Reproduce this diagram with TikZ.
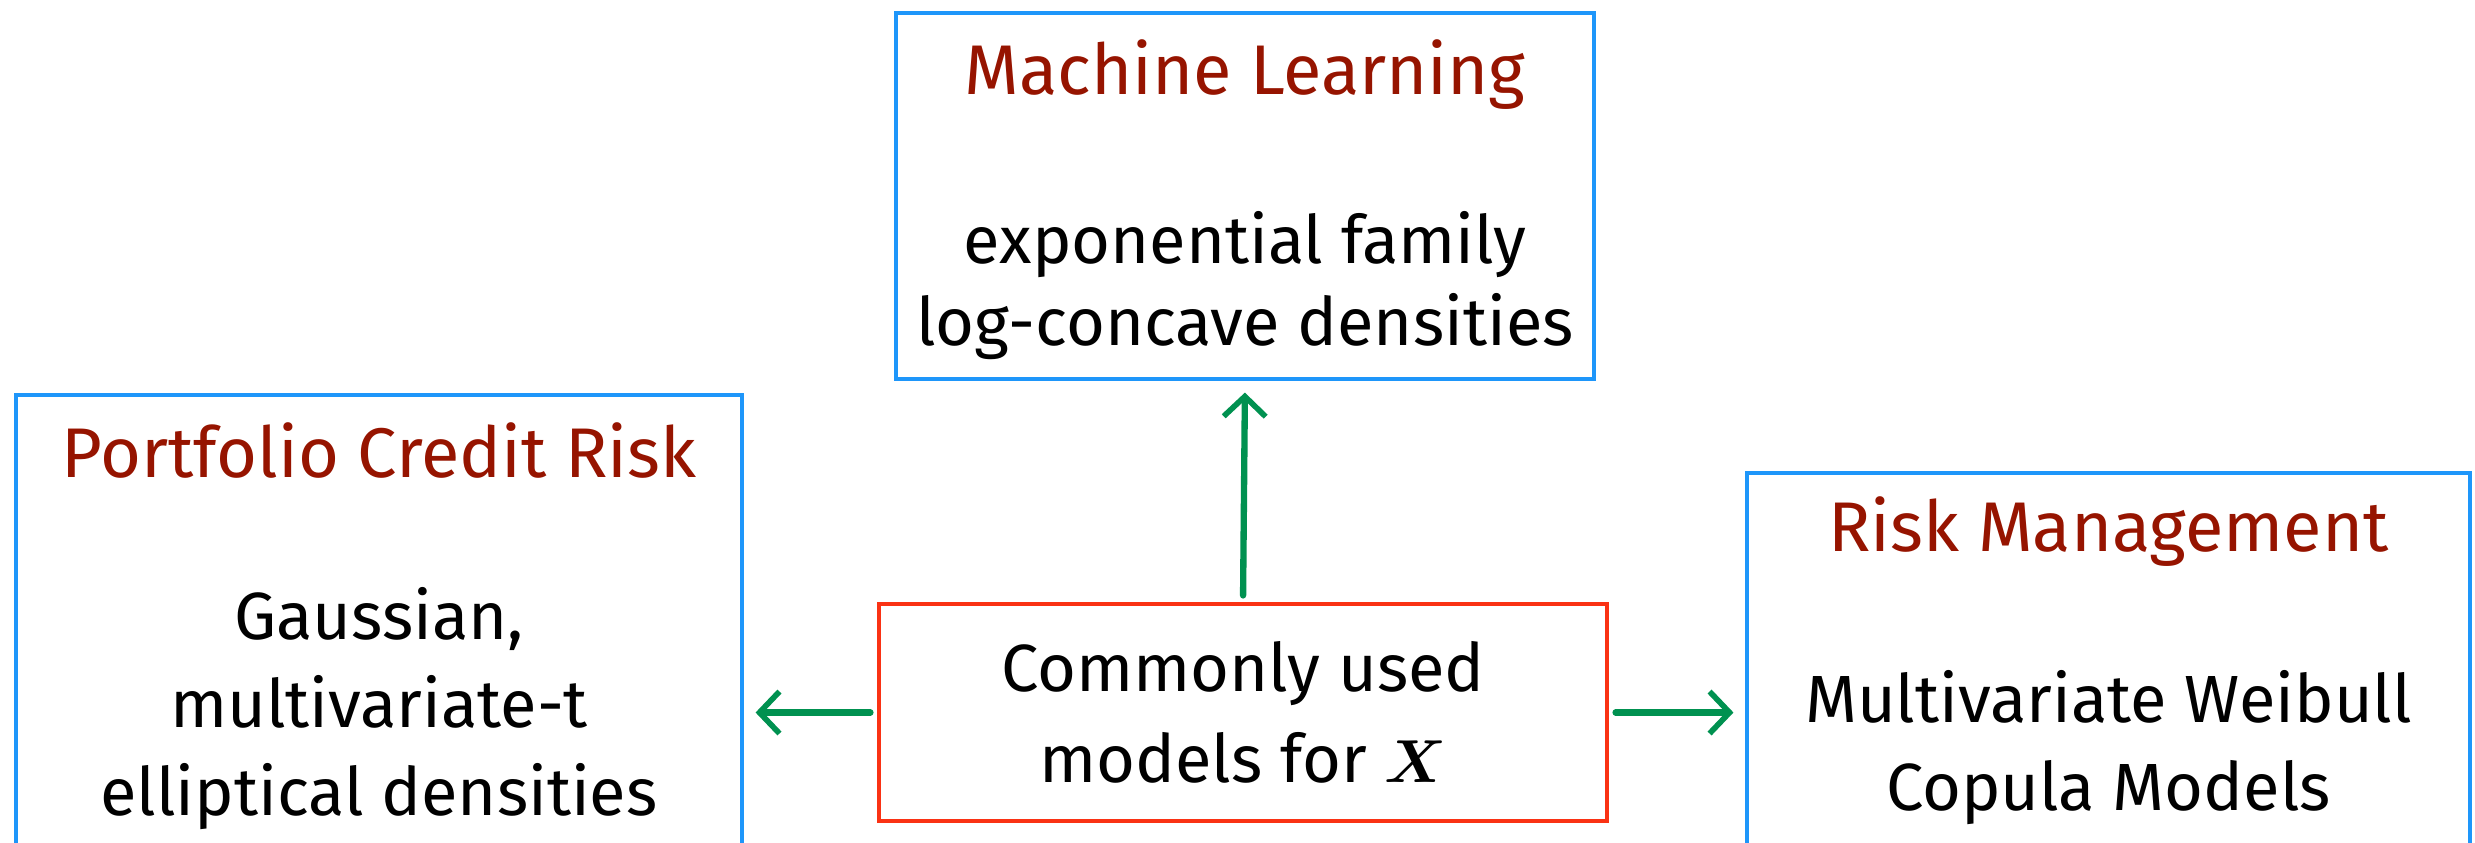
\documentclass[tikz,border=0pt]{standalone}
\usepackage{bm}
\usepackage{amsmath}
\usepackage{fontspec}
\setmainfont{Fira Sans}
\usetikzlibrary{positioning,arrows.meta}

\definecolor{boxblue}{RGB}{30,150,250}
\definecolor{boxred}{RGB}{250,50,20}
\definecolor{titlered}{RGB}{150,20,0}
\definecolor{linkgreen}{RGB}{0,145,80}

\tikzset{
	bluebox/.style={draw=boxblue, line width=0.9pt, rectangle, inner sep=0pt},
	redbox/.style={draw=boxred, line width=0.9pt, rectangle, inner sep=0pt, align=center,
		font=\fontsize{19}{26}\selectfont},
	title/.style={text=titlered, inner sep=0pt, font=\fontsize{20}{25}\selectfont},
	body/.style={align=center, inner sep=0pt, font=\fontsize{19}{25}\selectfont},
	link/.style={draw=linkgreen, line width=1.8pt, line cap=round,
		-{Straight Barb[length=0.2cm, width=0.42cm, line width=1.6pt]},
		shorten >=0.12cm, shorten <=0.07cm},
}

\begin{document}
\begin{tikzpicture}
	\useasboundingbox (0,0) rectangle (24.75,-8.42);
	% boxes
	\node[bluebox, minimum width=6.98cm, minimum height=3.66cm] (ml) at (12.45,-1.96) {};
	\node[bluebox, minimum width=7.26cm, minimum height=4.65cm] (pcr) at (3.79,-6.275) {};
	\node[bluebox, minimum width=7.23cm, minimum height=3.87cm] (rm) at (21.085,-6.665) {};
	\node[redbox, minimum width=7.28cm, minimum height=2.17cm] (models) at (12.43,-7.125)
		{Commonly used\\models for $\bm{X}$};
	
	% titles and texts
	\node[title] (mltitle) at ([yshift=-0.63cm]ml.north) {Machine Learning};
	\node[body, font=\fontsize{19}{23.5}\selectfont] (mlbody) at ([yshift=0.95cm]ml.south)
		{exponential family\\log-concave densities};
	\node[title] (pcrtitle) at ([yshift=-0.57cm]pcr.north) {Portfolio Credit Risk};
	\node[body] (pcrbody) at ([yshift=-3.15cm]pcr.north) {Gaussian,\\multivariate-t\\elliptical densities};
	\node[title] (rmtitle) at ([yshift=-0.60cm]rm.north) {Risk Management};
	\node[body] (rmbody) at ([yshift=-2.76cm]rm.north) {Multivariate Weibull\\Copula Models};
	
	% arrows
	\draw[link] (models.north) -- (ml.south);
	\draw[link] (models.west) -- (models.west -| pcr.east);
	\draw[link] (models.east) -- (models.east -| rm.west);
\end{tikzpicture}
\end{document}
